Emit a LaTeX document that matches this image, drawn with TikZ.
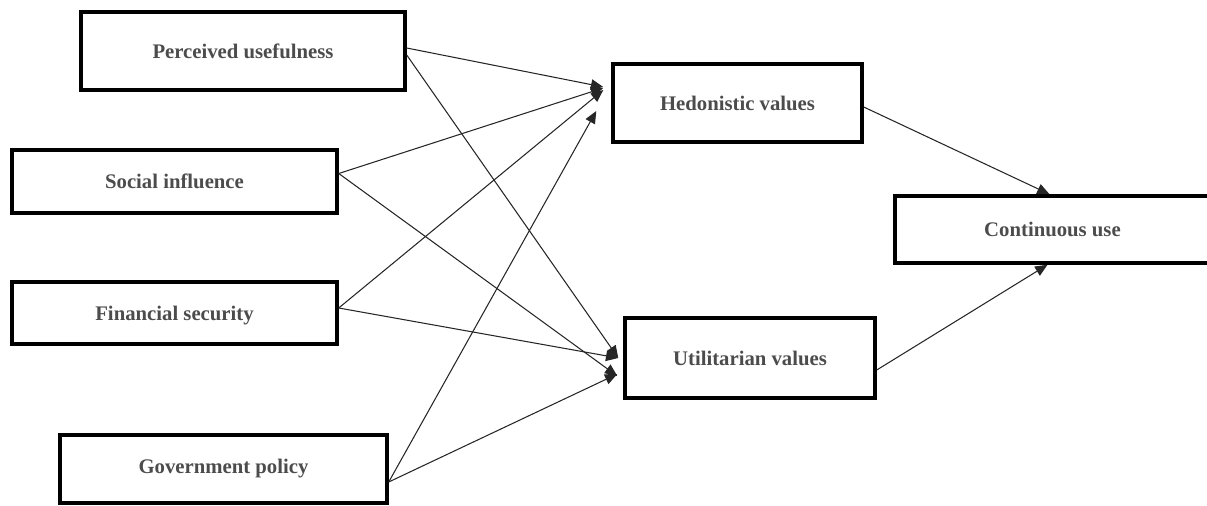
\documentclass[tikz,border=0pt]{standalone}
\usepackage{fontspec}
\setmainfont{Liberation Serif}
\usetikzlibrary{arrows.meta,calc}

\tikzset{
  caixa/.style={draw, line width=2pt, rectangle, inner sep=0pt,
    font=\fontsize{11.8}{14}\selectfont\bfseries, text=black!70},
  seta/.style={->, line width=0.6pt, draw=black!85}
}

\begin{document}
\begin{tikzpicture}[x=0.02cm, y=-0.02cm, >={Triangle[length=7pt,width=6pt]}]
    % Área visível (a caixa da direita é cortada na borda)
    \clip (0,0) rectangle (1207,506);

    % Construtos de entrada (coluna da esquerda)
    \node[caixa, minimum width=6.48cm, minimum height=1.56cm] (pu) at (243,51) {Perceived usefulness};
    \node[caixa, minimum width=6.5cm, minimum height=1.26cm] (si) at (174.5,181.5) {Social influence};
    \node[caixa, minimum width=6.5cm, minimum height=1.24cm, text depth=-8pt] (fs) at (174.5,313) {Financial security};
    \node[caixa, minimum width=6.54cm, minimum height=1.36cm] (gp) at (223.5,469) {Government policy};

    % Valores percebidos (coluna do meio)
    \node[caixa, minimum width=4.98cm, minimum height=1.56cm] (hv) at (737.5,103) {Hedonistic values};
    \node[caixa, minimum width=5cm, minimum height=1.6cm] (uv) at (750,358) {Utilitarian values};

    % Variável final
    \node[caixa, minimum width=6.3cm, minimum height=1.34cm] (cu) at (1052.5,229.5) {Continuous use};

    % Setas das entradas para os valores (deslocamentos em pixels)
    \foreach \src/\sy/\dst/\dx/\dy in {pu/-3/hv/-8/-16, si/-8/hv/-8/-15, fs/-5/hv/-8/-13, gp/13/hv/-15/8,
                                       pu/4/uv/-5/0, si/-8/uv/-6/18, fs/-5/uv/-5/0, gp/13/uv/-6/16} {
      \draw[seta] ($(\src.east)+(0,\sy)$) -- ($(\dst.west)+(\dx,\dy)$);
    }

    % Setas dos valores para o uso contínuo
    \draw[seta] ($(hv.east)+(0,4)$) -- ($(cu.north)+(-3,0)$);
    \draw[seta] ($(uv.east)+(0,12)$) -- ($(cu.south)+(-5,0)$);
  \end{tikzpicture}
\end{document}
